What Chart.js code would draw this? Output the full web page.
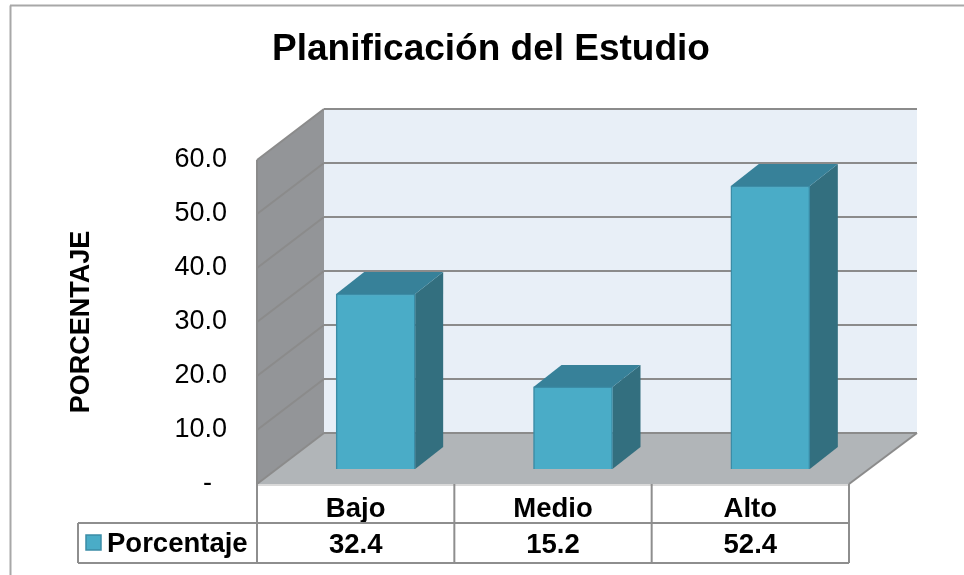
<!DOCTYPE html>
<html>
<head>
<meta charset="utf-8">
<style>
  html, body { margin: 0; padding: 0; background: #fff; }
  canvas { display: block; }
</style>
<script src="https://cdn.jsdelivr.net/npm/chart.js@4/dist/chart.umd.js"></script>
</head>
<body>
<canvas id="chart" width="964" height="575"></canvas>
<script>
const chartTitle = 'Planificación del Estudio';
const yAxisTitle = 'PORCENTAJE';
const seriesName = 'Porcentaje';
const categories = ['Bajo', 'Medio', 'Alto'];
const porcentaje = [32.4, 15.2, 52.4];
const tickValues = [0, 10, 20, 30, 40, 50, 60];

const FONT = '"Liberation Sans", Arial, sans-serif';
const C = {
  front: '#4aacc7', top: '#378199', side: '#336f7f', edge: '#3b8ca6',
  wall: '#939598', floor: '#b1b5b8', back: '#e8eff7', grid: '#8b8b8b',
  table: '#8e8e8e', frame: '#a8a8a8'
};
const WALL_DX = 67, WALL_DY = 51; // depth of the 3d box
const BAR_DX = 28, BAR_DY = 22;   // depth of each bar
const BAR_SHIFT_X = 20, BAR_SHIFT_Y = 15; // bars stand a bit inside the floor

function poly(ctx, pts, fill) {
  ctx.beginPath();
  pts.forEach((p, i) => i ? ctx.lineTo(p[0], p[1]) : ctx.moveTo(p[0], p[1]));
  ctx.closePath();
  ctx.fillStyle = fill;
  ctx.fill();
}

function line(ctx, x1, y1, x2, y2, color, width) {
  ctx.beginPath();
  ctx.moveTo(x1, y1);
  ctx.lineTo(x2, y2);
  ctx.strokeStyle = color;
  ctx.lineWidth = width;
  ctx.stroke();
}

const box3d = {
  id: 'box3d',
  beforeDatasetsDraw(chart) {
    const { ctx, chartArea: a, scales } = chart;
    const dx = WALL_DX, dy = WALL_DY;
    ctx.save();
    // back wall, left wall, floor
    poly(ctx, [[a.left + dx, a.top - dy], [a.right + dx + 1, a.top - dy], [a.right + dx + 1, a.bottom - dy], [a.left + dx, a.bottom - dy]], C.back);
    poly(ctx, [[a.left, a.top], [a.left + dx, a.top - dy], [a.left + dx, a.bottom - dy], [a.left, a.bottom]], C.wall);
    poly(ctx, [[a.left, a.bottom], [a.left + dx, a.bottom - dy], [a.right + dx + 1, a.bottom - dy], [a.right, a.bottom]], C.floor);
    // gridlines run across the left wall and the back wall
    tickValues.forEach(v => {
      const y = scales.y.getPixelForValue(v);
      line(ctx, a.left, y, a.left + dx, y - dy, C.grid, 2);
      line(ctx, a.left + dx, y - dy, a.right + dx + 1, y - dy, C.grid, 2);
    });
    line(ctx, a.right, a.bottom, a.right + dx + 1, a.bottom - dy, C.grid, 2);
    line(ctx, a.left, a.top, a.left, a.bottom, C.grid, 2);

    // side and top faces, taken from the bar elements
    chart.getDatasetMeta(0).data.forEach(bar => {
      const l = bar.x - bar.width / 2 + BAR_SHIFT_X;
      const r = bar.x + bar.width / 2 + BAR_SHIFT_X;
      const t = bar.y - BAR_SHIFT_Y;
      const b = bar.base - BAR_SHIFT_Y;
      poly(ctx, [[r, t], [r + BAR_DX, t - BAR_DY], [r + BAR_DX, b - BAR_DY], [r, b]], C.side);
      poly(ctx, [[l, t], [l + BAR_DX, t - BAR_DY], [r + BAR_DX, t - BAR_DY], [r, t]], C.top);
    });
    ctx.restore();
    ctx.save();
    ctx.translate(BAR_SHIFT_X, -BAR_SHIFT_Y);
  },
  afterDatasetsDraw(chart) {
    chart.ctx.restore();
  },
  afterDraw(chart) {
    const { ctx, chartArea: a, scales } = chart;
    const row1 = a.bottom, row2 = 523, row3 = 563, tableLeft = 78;
    ctx.save();
    // outer frame, open on the right and at the bottom
    line(ctx, 10.5, 575, 10.5, 5.5, C.frame, 2);
    line(ctx, 10, 5.5, 964, 5.5, C.frame, 2);

    // data table
    line(ctx, a.left, row1 + 1, a.right, row1 + 1, '#d9d9d9', 2);
    line(ctx, tableLeft, row2, a.right, row2, C.table, 2);
    line(ctx, tableLeft, row3, a.right, row3, C.table, 2);
    line(ctx, tableLeft, row2, tableLeft, row3, C.table, 2);
    const step = (a.right - a.left) / categories.length;
    for (let i = 0; i <= categories.length; i++) {
      line(ctx, a.left + i * step, row1, a.left + i * step, row3, C.table, 2);
    }

    // legend key and values row
    ctx.fillStyle = C.front;
    ctx.strokeStyle = C.edge;
    ctx.lineWidth = 1.5;
    ctx.fillRect(86, 535, 15, 15);
    ctx.strokeRect(86, 535, 15, 15);
    ctx.fillStyle = '#000';
    ctx.font = 'bold 27.5px ' + FONT;
    ctx.textBaseline = 'middle';
    ctx.textAlign = 'left';
    ctx.fillText(seriesName, 107, 544);
    ctx.textAlign = 'center';
    porcentaje.forEach((v, i) => {
      ctx.fillText(v.toFixed(1), scales.x.getPixelForValue(i), 545);
    });

    // title
    ctx.font = 'bold 37px ' + FONT;
    ctx.fillText(chartTitle, 491, 50);
    ctx.restore();
  }
};

new Chart(document.getElementById('chart'), {
  type: 'bar',
  data: {
    labels: categories,
    datasets: [{
      label: seriesName,
      data: porcentaje,
      backgroundColor: C.front,
      borderColor: C.edge,
      borderWidth: 1.5,
      barThickness: 79
    }]
  },
  options: {
    responsive: false,
    animation: false,
    layout: { padding: { left: 65, right: 115, top: 160, bottom: 0 } },
    plugins: { legend: { display: false }, title: { display: false }, tooltip: { enabled: false } },
    scales: {
      x: {
        grid: { display: false },
        border: { display: false },
        ticks: { color: '#000', font: { family: FONT, size: 27.5, weight: 'bold' }, padding: 1, maxRotation: 0 },
        afterFit(scale) { scale.height = 91; }
      },
      y: {
        min: 0,
        max: 60,
        grid: { display: false },
        border: { display: false },
        afterBuildTicks(scale) { scale.ticks = tickValues.map(value => ({ value })); },
        ticks: {
          color: '#000',
          font: { family: FONT, size: 27 },
          padding: 22,
          // the dash sits inset from the right edge of the labels
          callback: v => v === 0 ? '-  ' : v.toFixed(1)
        },
        title: {
          display: true,
          text: yAxisTitle,
          color: '#000',
          font: { family: FONT, size: 27, weight: 'bold' },
          padding: 0
        },
        afterFit(scale) { scale.width = 192; }
      }
    }
  },
  plugins: [box3d]
});
</script>
</body>
</html>
